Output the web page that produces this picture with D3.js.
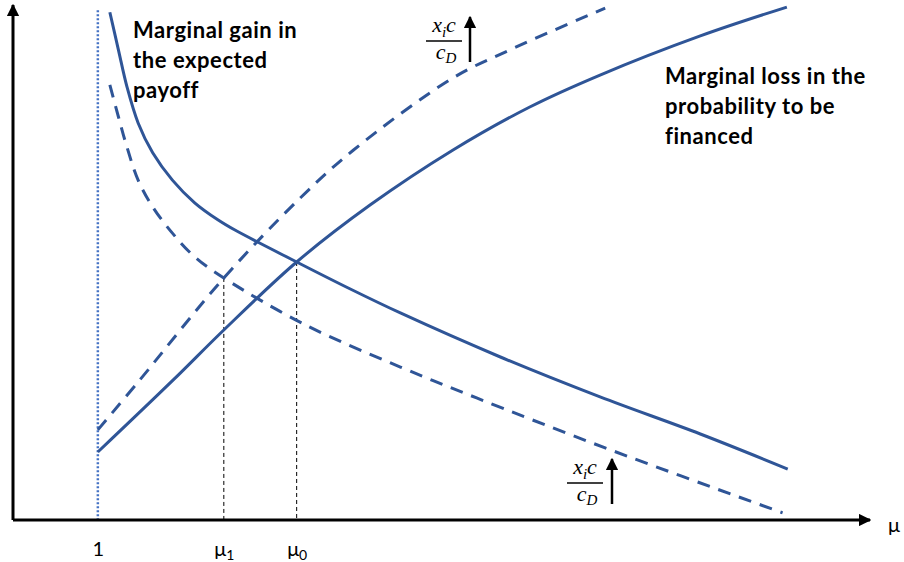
<!DOCTYPE html>
<html>
<head>
<meta charset="utf-8">
<script src="https://cdn.jsdelivr.net/npm/d3@7"></script>
<style>
  html, body { margin: 0; padding: 0; background: #fff; }
  svg { display: block; }
</style>
</head>
<body>
<svg id="chart" width="904" height="562"></svg>
<script>
// ---- data (abstract units: mu on x, value on y) ----
const gainX      = [11.3, 12.3, 13.3, 14.6, 16.3, 18.6, 21.2, 23.9, 25.9, 33.1, 39.3, 45.2, 56.8, 68.5, 80.2, 90.4];
const gainY      = [98.6, 91.3, 84.1, 77.1, 71.3, 66.0, 61.6, 58.3, 56.3, 50.1, 44.9, 40.2, 31.7, 23.9, 16.7, 9.9];
const gainShiftX = [11.3, 12.3, 13.3, 14.6, 16.3, 18.6, 21.2, 24.6, 34.1, 45.2, 54.1, 69.1, 89.8];
const gainShiftY = [84.5, 78.3, 72.4, 66.0, 60.8, 55.7, 51.1, 47.0, 37.9, 29.7, 23.7, 14.0, 1.4];
const lossX      = [9.9, 18.7, 24.6, 33.1, 41.7, 51.3, 60.3, 68.5, 80.2, 90.3];
const lossY      = [13.2, 27.2, 36.9, 50.1, 61.2, 71.8, 80.2, 86.4, 94.0, 99.6];
const lossShiftX = [9.9, 14.8, 24.6, 33.5, 39.7, 51.3, 58.0, 69.1];
const lossShiftY = [17.5, 27.2, 47.0, 62.5, 71.8, 85.8, 91.3, 99.4];
const tickValues = [9.9, 24.6, 33.1];
const tickMain   = ["1", "μ", "μ"];
const tickSub    = ["", "1", "0"];
const dropX      = [24.6, 33.1];
const dropY      = [47.0, 50.1];
const gainLabel  = ["Marginal gain in", "the expected", "payoff"];
const lossLabel  = ["Marginal loss in the", "probability to be", "financed"];
const axisName   = "μ";

// ---- layout ----
const svg = d3.select("#chart");
const x = d3.scaleLinear().domain([0, 100]).range([13, 870]);
const y = d3.scaleLinear().domain([0, 100]).range([520, 5]);
const blue = "#2F5597";

const defs = svg.append("defs");
defs.append("marker").attr("id", "arrow").attr("viewBox", "0 0 10 10")
  .attr("refX", 9).attr("refY", 5).attr("markerWidth", 4.2).attr("markerHeight", 4.2)
  .attr("orient", "auto").attr("markerUnits", "strokeWidth")
  .append("path").attr("d", "M0,0 L10,5 L0,10 Z").attr("fill", "#000");
defs.append("marker").attr("id", "arrowS").attr("viewBox", "0 0 10 10")
  .attr("refX", 9).attr("refY", 5).attr("markerWidth", 5).attr("markerHeight", 5)
  .attr("orient", "auto").attr("markerUnits", "strokeWidth")
  .append("path").attr("d", "M0,0 L10,5 L0,10 Z").attr("fill", "#000");

// dotted line at mu = 1
svg.append("line")
  .attr("x1", x(tickValues[0])).attr("x2", x(tickValues[0]))
  .attr("y1", y(99)).attr("y2", y(0))
  .attr("stroke", "#4472C4").attr("stroke-width", 2.5).attr("stroke-dasharray", "2,2");

// drop lines
dropX.forEach((dx, i) => {
  svg.append("line")
    .attr("x1", x(dx)).attr("x2", x(dx))
    .attr("y1", y(dropY[i])).attr("y2", y(0))
    .attr("stroke", "#000").attr("stroke-width", 1).attr("stroke-dasharray", "4,3");
});

// curves
const line = d3.line().x(d => x(d[0])).y(d => y(d[1])).curve(d3.curveCatmullRom.alpha(0.5));
function drawCurve(xs, ys, dashed) {
  svg.append("path")
    .datum(d3.zip(xs, ys))
    .attr("d", line)
    .attr("fill", "none")
    .attr("stroke", blue)
    .attr("stroke-width", 3)
    .attr("stroke-dasharray", dashed ? "13,9" : null);
}
drawCurve(gainShiftX, gainShiftY, true);
drawCurve(lossShiftX, lossShiftY, true);
drawCurve(gainX, gainY, false);
drawCurve(lossX, lossY, false);

// axes with arrows
svg.append("line").attr("x1", x(0)).attr("x2", x(100)).attr("y1", y(0)).attr("y2", y(0))
  .attr("stroke", "#000").attr("stroke-width", 3).attr("marker-end", "url(#arrow)");
svg.append("line").attr("x1", x(0)).attr("x2", x(0)).attr("y1", y(0)).attr("y2", y(100))
  .attr("stroke", "#000").attr("stroke-width", 3).attr("marker-end", "url(#arrow)");

// tick labels through a d3 axis
const axisG = svg.append("g").attr("transform", `translate(0,${y(0)})`)
  .call(d3.axisBottom(x).tickValues(tickValues).tickSize(0).tickPadding(0)
    .tickFormat((d, i) => tickMain[i]));
axisG.select(".domain").remove();
axisG.selectAll(".tick text")
  .attr("font-family", "Lato, 'Open Sans', sans-serif")
  .attr("font-size", 20).attr("fill", "#000")
  .attr("dy", null).attr("y", 36)
  .each(function(d, i) {
    if (tickSub[i]) {
      d3.select(this).append("tspan").attr("font-size", 14).attr("dy", 4).text(tickSub[i]);
    }
  });

svg.append("text").attr("x", 888).attr("y", 532)
  .attr("font-family", "Lato, 'Open Sans', sans-serif").attr("font-size", 20)
  .text(axisName);

// bold annotations
function block(lines, x0, y0) {
  const t = svg.append("text")
    .attr("font-family", "Lato, 'Open Sans', sans-serif")
    .attr("font-weight", "bold").attr("font-size", 22).attr("letter-spacing", 0.55)
    .attr("fill", "#000");
  lines.forEach((s, i) => t.append("tspan").attr("x", x0).attr("y", y0 + i * 30).text(s));
}
block(gainLabel, 133, 38);
block(lossLabel, 665, 84);

// fraction labels with arrows
function fraction(cx, barY, arrowX, arrowTop, arrowBot) {
  const g = svg.append("g").attr("font-family", "'Liberation Serif', 'Times New Roman', serif")
    .attr("font-style", "italic").attr("font-size", 22).attr("fill", "#000");
  const num = g.append("text").attr("x", cx).attr("y", barY - 9).attr("text-anchor", "middle");
  num.append("tspan").text("x");
  num.append("tspan").attr("font-size", 15).attr("dy", 5).text("i");
  num.append("tspan").attr("dy", -5).text("c");
  g.append("line").attr("x1", cx - 18).attr("x2", cx + 18).attr("y1", barY).attr("y2", barY)
    .attr("stroke", "#000").attr("stroke-width", 1.5);
  const den = g.append("text").attr("x", cx + 2).attr("y", barY + 18).attr("text-anchor", "middle");
  den.append("tspan").text("c");
  den.append("tspan").attr("font-size", 15).attr("dy", 4).text("D");
  svg.append("line").attr("x1", arrowX).attr("x2", arrowX).attr("y1", arrowBot).attr("y2", arrowTop)
    .attr("stroke", "#000").attr("stroke-width", 2.5).attr("marker-end", "url(#arrowS)");
}
fraction(444, 41, 470, 17, 62);
fraction(585, 483, 612, 459, 504);
</script>
</body>
</html>
